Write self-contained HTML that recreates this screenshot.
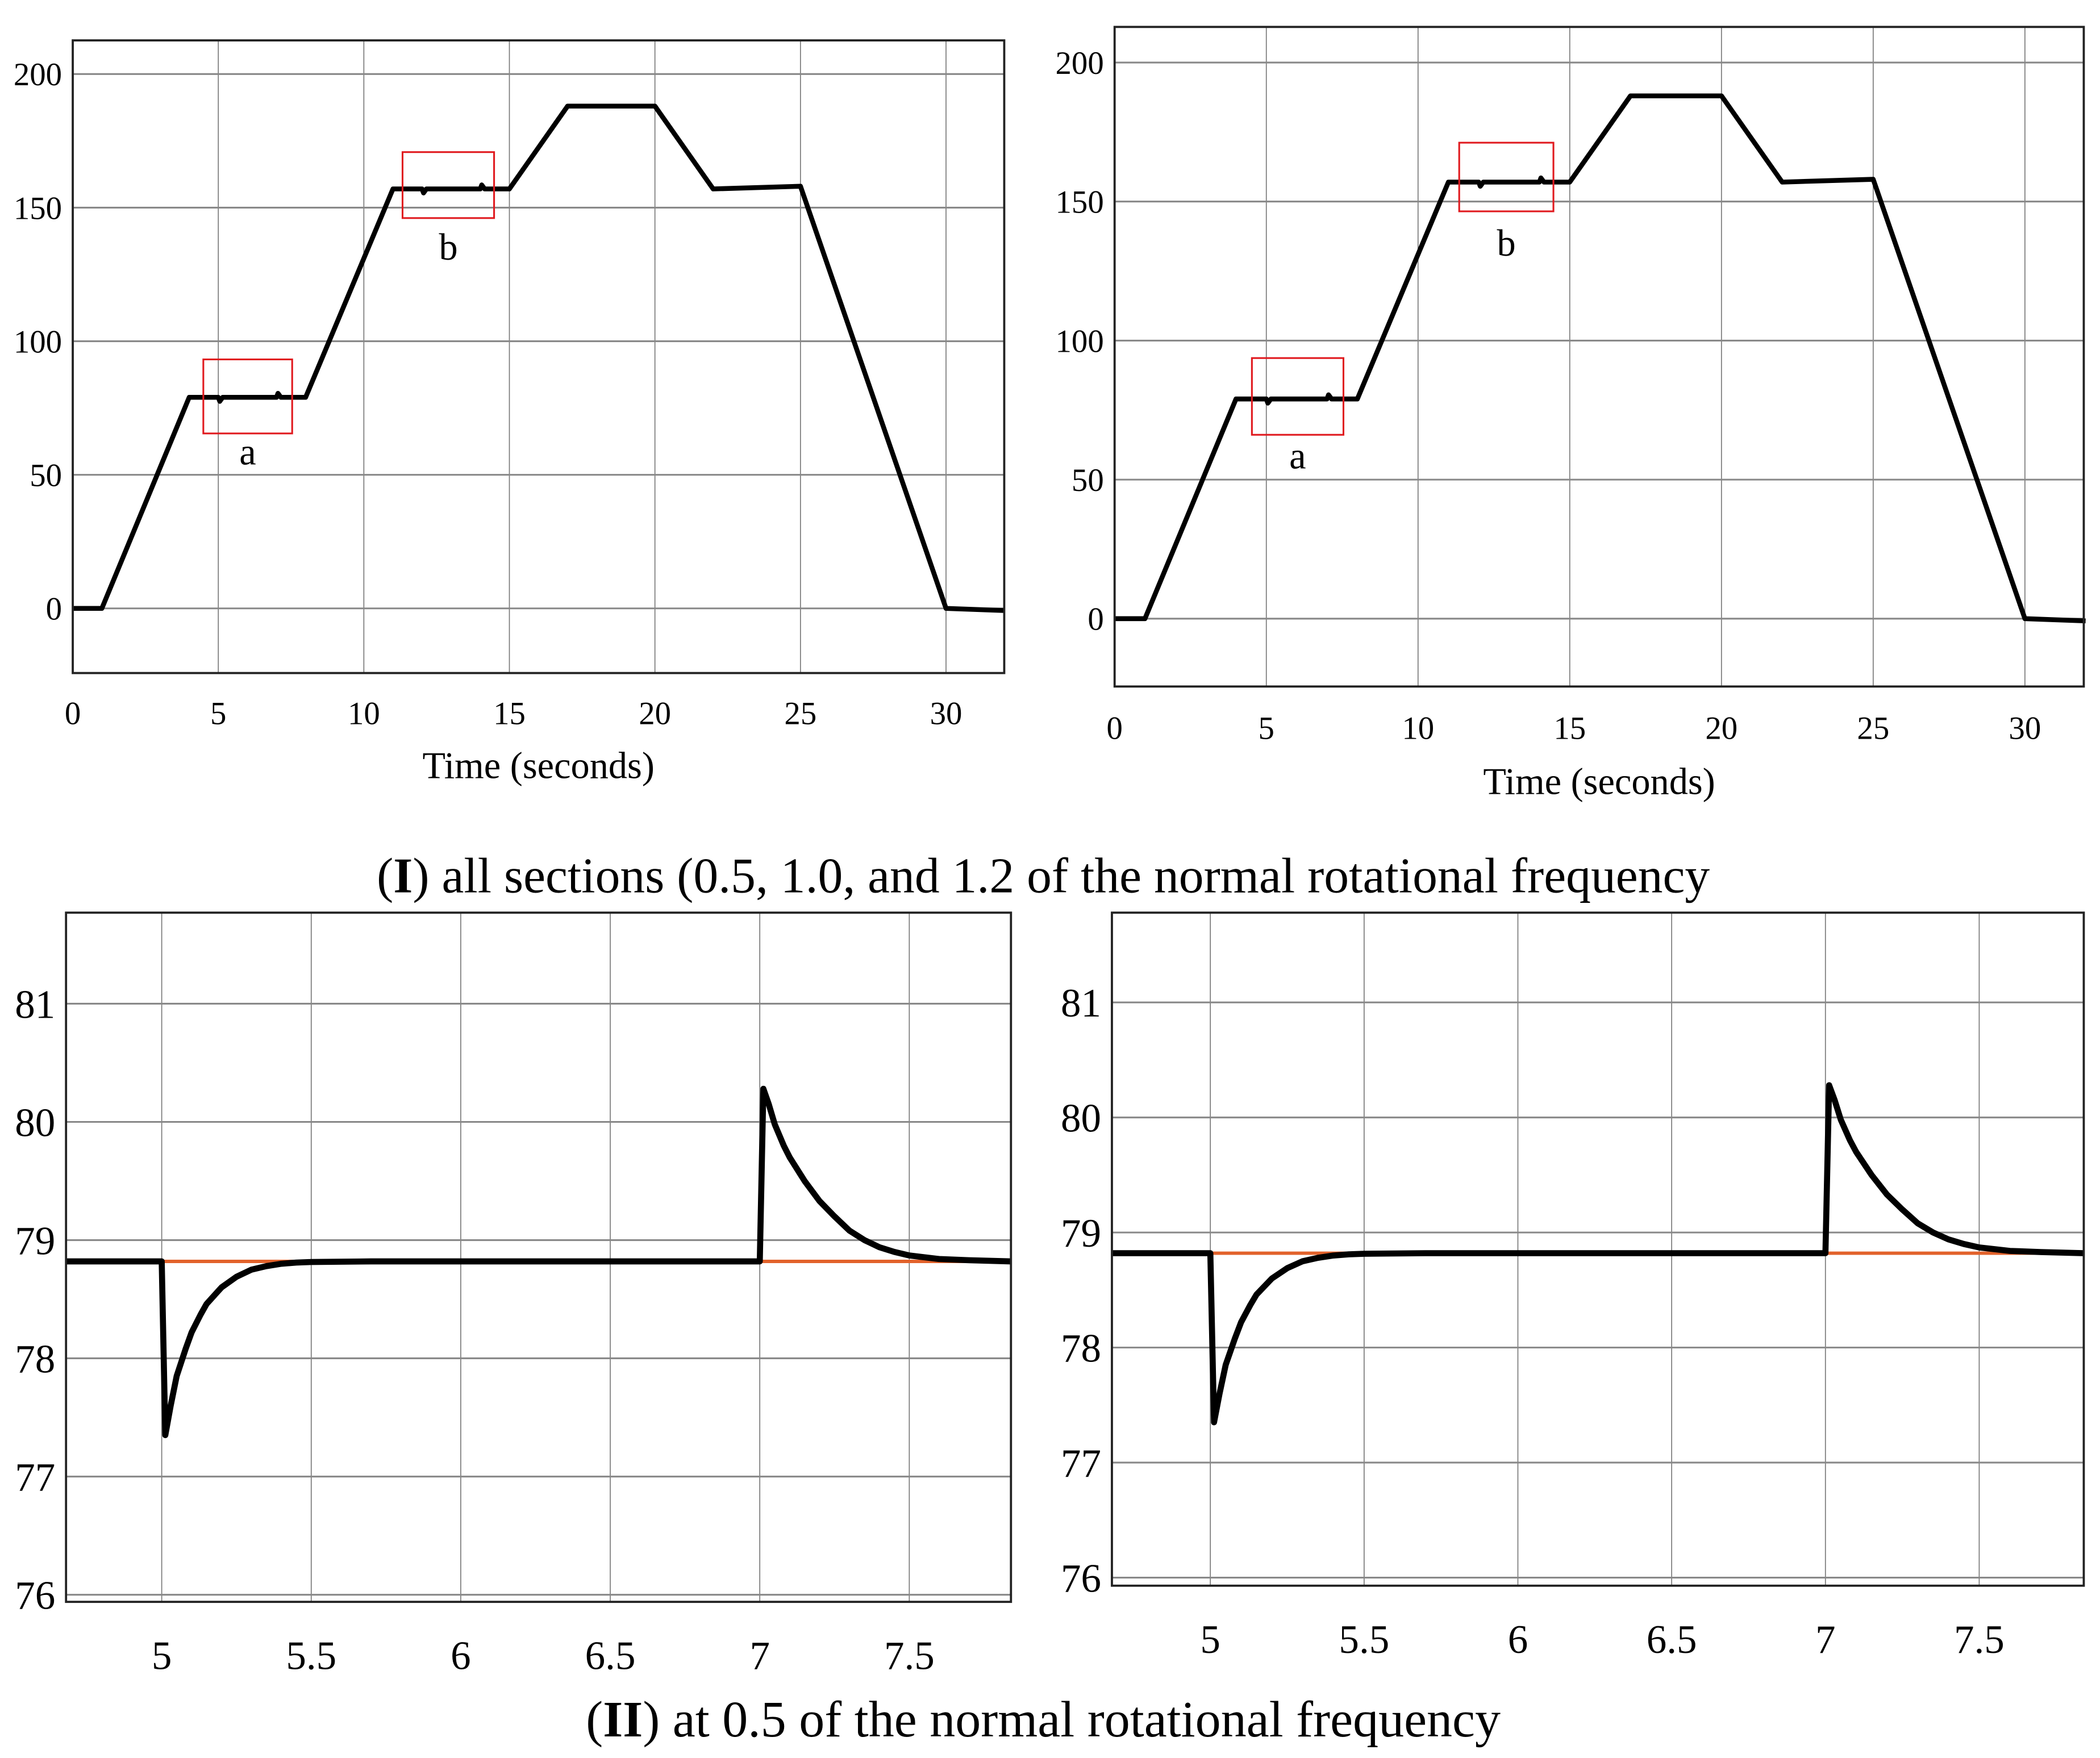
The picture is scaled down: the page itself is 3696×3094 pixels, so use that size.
<!DOCTYPE html>
<html><head><meta charset="utf-8">
<style>
html,body{margin:0;padding:0;background:#fff;}
svg{display:block;}
text{font-family:"Liberation Serif",serif;}
</style></head>
<body>
<svg id="fig" width="3696" height="3094" viewBox="0 0 1560 1306" xmlns="http://www.w3.org/2000/svg">
<text x="775" y="663" font-size="37" text-anchor="middle">(<tspan font-weight="bold">I</tspan>) all sections (0.5, 1.0, and 1.2 of the normal rotational frequency</text>
<text x="775" y="1290" font-size="38" text-anchor="middle">(<tspan font-weight="bold">II</tspan>) at 0.5 of the normal rotational frequency</text>
</svg>
<script>
// Overview series (panel I)
const speedT = [0, 1, 4, 5, 5.05, 5.15, 7, 7.05, 7.15, 8, 11, 12, 12.05, 12.15, 14, 14.05, 14.15, 15, 17, 20, 22, 25, 30, 32];
const speedLeft = [0, 0, 79, 79, 77.5, 79, 79, 80.5, 79, 79, 157, 157, 155.5, 157, 157, 158.5, 157, 157, 188, 188, 157, 158, 0, -0.8];
const speedRight = [0, 0, 79, 79, 77.5, 79, 79, 80.5, 79, 79, 157, 157, 155.5, 157, 157, 158.5, 157, 157, 188, 188, 157, 158, 0, -0.8];
const topXTicks = [0, 5, 10, 15, 20, 25, 30];
const topYTicks = [0, 50, 100, 150, 200];
// Zoomed series (panel II)
const zoomT = [4.68, 5.0, 5.012, 5.03, 5.05, 5.08, 5.1, 5.13, 5.15, 5.2, 5.25, 5.3, 5.35, 5.4, 5.45, 5.5, 5.7, 7.0, 7.012, 7.03, 7.05, 7.08, 7.1, 7.15, 7.2, 7.25, 7.3, 7.35, 7.4, 7.45, 7.5, 7.6, 7.7, 7.84];
const zoomLeft = [78.82, 78.82, 77.35, 77.6, 77.85, 78.08, 78.22, 78.37, 78.46, 78.6, 78.69, 78.75, 78.78, 78.8, 78.81, 78.815, 78.82, 78.82, 80.28, 80.15, 79.98, 79.8, 79.7, 79.5, 79.33, 79.2, 79.08, 79.0, 78.94, 78.9, 78.87, 78.84, 78.83, 78.82];
const zoomRight = [78.82, 78.82, 77.35, 77.6, 77.85, 78.08, 78.22, 78.37, 78.46, 78.6, 78.69, 78.75, 78.78, 78.8, 78.81, 78.815, 78.82, 78.82, 80.28, 80.15, 79.98, 79.8, 79.7, 79.5, 79.33, 79.2, 79.08, 79.0, 78.94, 78.9, 78.87, 78.84, 78.83, 78.82];
const refT = [4.68, 7.84];
const refV = [78.82, 78.82];
const zoomXTicks = [5, 5.5, 6, 6.5, 7, 7.5];
const zoomYTicks = [76, 77, 78, 79, 80, 81];

const NS = "http://www.w3.org/2000/svg";
const svg = document.getElementById('fig');
function mk(tag, attrs, parent) {
  const e = document.createElementNS(NS, tag);
  for (const k in attrs) e.setAttribute(k, attrs[k]);
  (parent || svg).appendChild(e);
  return e;
}
function panel(p) {
  const g = mk('g', {});
  
  
  const sx = v => p.x0 + (v - p.xmin) / (p.xmax - p.xmin) * (p.x1 - p.x0);
  const sy = v => p.y1 - (v - p.ymin) / (p.ymax - p.ymin) * (p.y1 - p.y0);
  p.xt.forEach(t => {
    const l = mk('line', {x1: sx(t), x2: sx(t), y1: p.y0, y2: p.y1, stroke: '#777', 'stroke-width': 0.7}, g);
    
    
    const tx = mk('text', {x: sx(t), y: p.lx, 'font-size': p.fs, 'text-anchor': 'middle'}, g);
    tx.textContent = t;
    
    
  });
  p.yt.forEach(t => {
    const l = mk('line', {x1: p.x0, x2: p.x1, y1: sy(t), y2: sy(t), stroke: '#888', 'stroke-width': 1.3}, g);
    
    
    const tx = mk('text', {x: p.x0 - 8, y: sy(t) + p.fs * 0.35, 'font-size': p.fs, 'text-anchor': 'end'}, g);
    tx.textContent = t;
    
    
  });
  if (p.ref) {
    const r = mk('polyline', {points: p.ref[0].map((t, i) => sx(t) + ',' + sy(p.ref[1][i])).join(' '), fill: 'none', stroke: '#e2622b', 'stroke-width': 2.5}, g);
    
    
  }
  const s = mk('polyline', {points: p.t.map((t, i) => sx(t) + ',' + sy(p.v[i])).join(' '), fill: 'none', stroke: '#000', 'stroke-width': p.lw, 'stroke-linejoin': 'round'}, g);
  
  
  const f = mk('rect', {x: p.x0, y: p.y0, width: p.x1 - p.x0, height: p.y1 - p.y0, fill: 'none', stroke: '#222', 'stroke-width': 1.6}, g);
  
  
  if (p.xlabel) {
    const xl = mk('text', {x: p.xlabelX, y: p.xlabelY, 'font-size': 28, 'text-anchor': 'middle'}, g);
    xl.textContent = 'Time (seconds)';
    
    
  }
  (p.boxes || []).forEach(b => {
    const r = mk('rect', {x: b[0], y: b[1], width: b[2], height: b[3], fill: 'none', stroke: '#e0191e', 'stroke-width': 1.3}, g);
    
    
    const tx = mk('text', {x: b[5], y: b[6], 'font-size': 28, 'text-anchor': 'middle'}, g);
    tx.textContent = b[4];
    
    
  });
}
panel({name: 'panel-top-left', x0: 54, x1: 746, y0: 30, y1: 500, xmin: 0, xmax: 32, ymin: -24.2, ymax: 212.6,
  xt: topXTicks, yt: topYTicks, t: speedT, v: speedLeft, lw: 3.6, fs: 24, lx: 538, xlabel: true, xlabelX: 400, xlabelY: 578,
  boxes: [[151, 267, 66, 55, 'a', 184, 345], [299, 113, 68, 49, 'b', 333, 193]]});
panel({name: 'panel-top-right', x0: 828, x1: 1548, y0: 20, y1: 510, xmin: 0, xmax: 31.94, ymin: -24.4, ymax: 212.8,
  xt: topXTicks, yt: topYTicks, t: speedT, v: speedRight, lw: 3.6, fs: 24, lx: 549, xlabel: true, xlabelX: 1188, xlabelY: 590,
  boxes: [[930, 266, 68, 57, 'a', 964, 348], [1084, 106, 70, 51, 'b', 1119, 190]]});
panel({name: 'panel-bottom-left', x0: 49, x1: 751, y0: 678, y1: 1190, xmin: 4.68, xmax: 7.84, ymin: 75.94, ymax: 81.77,
  xt: zoomXTicks, yt: zoomYTicks, t: zoomT, v: zoomLeft, ref: [refT, refV], lw: 4.5, fs: 30, lx: 1240});
panel({name: 'panel-bottom-right', x0: 826, x1: 1548, y0: 678, y1: 1178, xmin: 4.68, xmax: 7.84, ymin: 75.93, ymax: 81.78,
  xt: zoomXTicks, yt: zoomYTicks, t: zoomT, v: zoomRight, ref: [refT, refV], lw: 4.5, fs: 30, lx: 1228});
</script>
</body></html>
